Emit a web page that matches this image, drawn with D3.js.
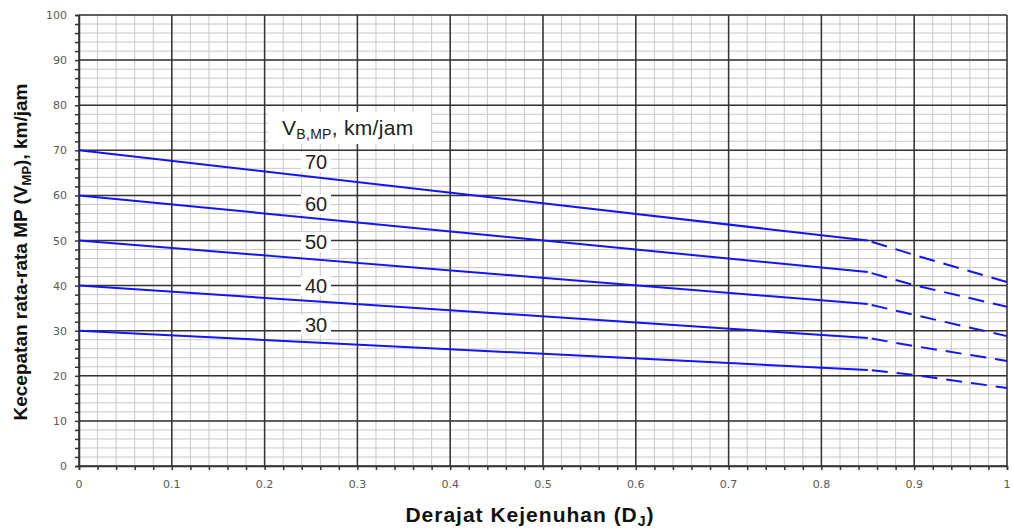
<!DOCTYPE html>
<html><head><meta charset="utf-8">
<script src="https://cdn.jsdelivr.net/npm/d3@7"></script>
<style>body{margin:0;background:#fff}svg{display:block}</style>
</head><body>
<svg id="c" width="1013" height="530"></svg>
<script>
const speeds = [70, 60, 50, 40, 30];
const xSolid = [0, 0.85];
const xDashed = [0.85, 0.9, 1.0];
const solid70 = [70, 50.0], solid60 = [60, 43.0], solid50 = [50, 35.9], solid40 = [40, 28.4], solid30 = [30, 21.3];
const dash70 = [50.0, 46.8, 40.8], dash60 = [43.0, 40.1, 35.3], dash50 = [35.9, 33.5, 28.8], dash40 = [28.4, 26.6, 23.3], dash30 = [21.3, 20.2, 17.3];
const solids = [solid70, solid60, solid50, solid40, solid30];
const dashes = [dash70, dash60, dash50, dash40, dash30];
const xTicks = [0,0.1,0.2,0.3,0.4,0.5,0.6,0.7,0.8,0.9,1];
const yTicks = [0,10,20,30,40,50,60,70,80,90,100];
const labelY = [67.4, 58.1, 49.7, 39.9, 31.3];

const svg = d3.select("#c");
const L=79, R=1007, T=15, B=466;
const x = d3.scaleLinear().domain([0,1]).range([L,R]);
const y = d3.scaleLinear().domain([0,100]).range([B,T]);

const minorX = d3.range(0, 51).map(i=>i/50);
const minorY = d3.range(0, 51).map(i=>i*2);
const g = svg.append("g");
g.selectAll(".mx").data(minorX).join("line").attr("x1",d=>x(d)).attr("x2",d=>x(d)).attr("y1",T).attr("y2",B).attr("stroke","#c8c8c8").attr("stroke-width",1);
g.selectAll(".my").data(minorY).join("line").attr("y1",d=>y(d)).attr("y2",d=>y(d)).attr("x1",L).attr("x2",R).attr("stroke","#c8c8c8").attr("stroke-width",1);
g.selectAll(".Mx").data(xTicks).join("line").attr("x1",d=>x(d)).attr("x2",d=>x(d)).attr("y1",T).attr("y2",B).attr("stroke","#333").attr("stroke-width",1.5);
g.selectAll(".My").data(yTicks).join("line").attr("y1",d=>y(d)).attr("y2",d=>y(d)).attr("x1",L).attr("x2",R).attr("stroke","#333").attr("stroke-width",1.5);

// axes
const xAxis = d3.axisBottom(x).tickValues(minorX).tickSize(4).tickFormat("");
const yAxis = d3.axisLeft(y).tickValues(minorY).tickSize(4).tickFormat("");
const ax = svg.append("g").attr("transform",`translate(0,${B})`).call(xAxis);
const ay = svg.append("g").attr("transform",`translate(${L},0)`).call(yAxis);
[ax,ay].forEach(a=>{a.select(".domain").attr("stroke","#333").attr("stroke-width",1.5);a.selectAll(".tick line").attr("stroke","#333").attr("stroke-width",1.5);});
const fmt = d=> d===0?"0":(d===1?"1":d3.format(".1f")(d));
svg.selectAll(".xl").data(xTicks).join("text").attr("x",d=>x(d)).attr("y",488).attr("text-anchor","middle")
  .attr("font-family","'DejaVu Sans', sans-serif").attr("font-size",11).attr("fill","#595959").text(fmt);
svg.selectAll(".yl").data(yTicks).join("text").attr("x",67).attr("y",d=>y(d)+4).attr("text-anchor","end")
  .attr("font-family","'DejaVu Sans', sans-serif").attr("font-size",11).attr("fill","#595959").text(d=>d);

// series
const line = d3.line().x(d=>x(d[0])).y(d=>y(d[1]));
solids.forEach(s=>{
  svg.append("path").attr("d", line(xSolid.map((xv,i)=>[xv,s[i]]))).attr("fill","none").attr("stroke","#1414f5").attr("stroke-width",2);
});
dashes.forEach(s=>{
  svg.append("path").attr("d", line(xDashed.map((xv,i)=>[xv,s[i]]))).attr("fill","none").attr("stroke","#1414f5").attr("stroke-width",2).attr("stroke-dasharray","16,9").attr("stroke-dashoffset",-4);
});

// labels
const lg = svg.append("g");
speeds.forEach((v,i)=>{
  const cx = 316, cy = y(labelY[i]);
  lg.append("rect").attr("x",cx-15).attr("y",cy-10).attr("width",30).attr("height",20).attr("fill","#fff");
  lg.append("text").attr("x",cx).attr("y",cy+7).attr("text-anchor","middle").attr("font-family","'Liberation Sans', Arial, sans-serif").attr("font-size",20).attr("fill","#222").text(v);
});
lg.append("rect").attr("x",268).attr("y",112).attr("width",163).attr("height",32).attr("fill","#fff");
const t = lg.append("text").attr("x",282).attr("y",135).attr("font-family","'Liberation Sans', Arial, sans-serif").attr("font-size",21).attr("letter-spacing",0.3).attr("fill","#222");
t.append("tspan").text("V");
t.append("tspan").attr("font-size",14).attr("dy",4).text("B,MP");
t.append("tspan").attr("dy",-4).text(", km/jam");

// axis titles
const xt = svg.append("text").attr("x",530).attr("y",522).attr("text-anchor","middle").attr("font-family","'Liberation Sans', Arial, sans-serif").attr("font-size",21).attr("letter-spacing",1).attr("font-weight","bold").attr("fill","#111");
xt.append("tspan").text("Derajat Kejenuhan (D");
xt.append("tspan").attr("font-size",14).attr("dy",4).text("J");
xt.append("tspan").attr("dy",-4).text(")");
const yt = svg.append("text").attr("transform","translate(27,252) rotate(-90)").attr("text-anchor","middle").attr("font-family","'Liberation Sans', Arial, sans-serif").attr("font-size",19).attr("font-weight","bold").attr("fill","#111");
yt.append("tspan").text("Kecepatan rata-rata MP (V");
yt.append("tspan").attr("font-size",13).attr("dy",4).text("MP");
yt.append("tspan").attr("dy",-4).text("), km/jam");
</script>
</body></html>
